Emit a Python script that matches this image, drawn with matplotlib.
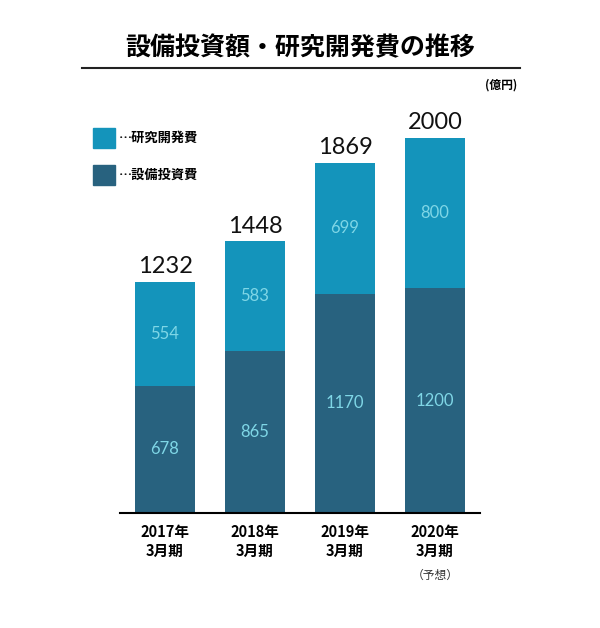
import matplotlib
matplotlib.use("Agg")
import matplotlib.pyplot as plt

categories = ["2017年\n3月期", "2018年\n3月期", "2019年\n3月期", "2020年\n3月期"]
capex = [678, 865, 1170, 1200]
rnd = [554, 583, 699, 800]
totals = [1232, 1448, 1869, 2000]

plt.rcParams["font.family"] = "Noto Sans CJK JP"
W, H = 600, 628
fig = plt.figure(figsize=(6, 6.28), dpi=100)
ax = fig.add_axes([120/W, 1-513/H, 360/W, 375/H])
dark, light = "#28627f", "#1494bb"
x = range(len(categories))
ax.bar(x, capex, width=0.667, color=dark)
ax.bar(x, rnd, bottom=capex, width=0.667, color=light)
for i in x:
    ax.text(i, capex[i]/2, str(capex[i]), ha="center", va="center", color="#7fd6e6", fontsize=12, family="Lato")
    ax.text(i, capex[i]+rnd[i]/2, str(rnd[i]), ha="center", va="center", color="#7fd6e6", fontsize=12, family="Lato")
    ax.text(i, totals[i]+25, str(totals[i]), ha="center", va="bottom", color="#111", fontsize=17, family="Lato")
    ax.text(i, -60, categories[i], ha="center", va="top", fontsize=10.5, fontweight="bold", linespacing=1.2)
ax.text(3, -300, "（予想）", ha="center", va="top", fontsize=8.5, color="#333")
ax.set_xlim(-0.5, 3.5)
ax.set_ylim(0, 2000)
for s in ["top", "right", "left"]:
    ax.spines[s].set_visible(False)
ax.spines["bottom"].set_linewidth(1.5)
ax.set_xticks([]); ax.set_yticks([])

fig.text(0.5, 1-48/H, "設備投資額・研究開発費の推移", ha="center", va="center", fontsize=18, fontweight="bold")
fig.add_artist(plt.Line2D([82/W, 520/W], [1-68/H, 1-68/H], color="#222", lw=1.5))
fig.text(517/W, 1-85/H, "(億円)", ha="right", va="center", fontsize=8.5, fontweight="bold")
for y, c, t in [(138, light, "…研究開発費"), (175, dark, "…設備投資費")]:
    fig.patches.append(plt.Rectangle((93/W, 1-(y+10)/H), 22/W, 20/H, color=c, transform=fig.transFigure))
    fig.text(119/W, 1-y/H, t, va="center", fontsize=9.5, fontweight="bold")
fig.savefig("out.png", dpi=100, facecolor="white")
